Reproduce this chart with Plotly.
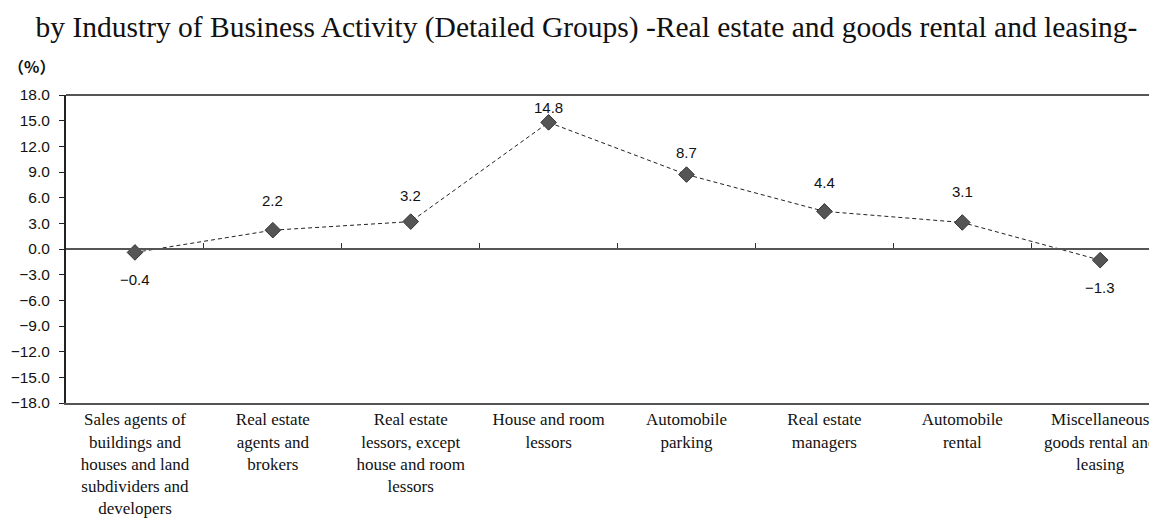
import plotly.graph_objects as go

categories = [
    "Sales agents of<br>buildings and<br>houses and land<br>subdividers and<br>developers",
    "Real estate<br>agents and<br>brokers",
    "Real estate<br>lessors, except<br>house and room<br>lessors",
    "House and room<br>lessors",
    "Automobile<br>parking",
    "Real estate<br>managers",
    "Automobile<br>rental",
    "Miscellaneous<br>goods rental and<br>leasing",
]
values = [-0.4, 2.2, 3.2, 14.8, 8.7, 4.4, 3.1, -1.3]
label_shift = [-27, 30, 26, 15, 22, 29, 31, -27]
y_ticks = [18, 15, 12, 9, 6, 3, 0, -3, -6, -9, -12, -15, -18]
y_ticktext = [("−" if v < 0 else "") + f"{abs(v):.1f}" for v in y_ticks]

xs = list(range(len(categories)))
SANS = "Liberation Sans, Arial, sans-serif"
SERIF = "Liberation Serif, Times New Roman, serif"

fig = go.Figure()
fig.add_trace(go.Scatter(
    x=xs, y=values, mode="lines+markers",
    line=dict(color="#222222", width=1, dash="4px,3px"),
    marker=dict(symbol="diamond", size=12, color="#555555",
                line=dict(color="#333333", width=1)),
    showlegend=False, hoverinfo="skip",
))
fig.add_trace(go.Scatter(x=xs, y=values, xaxis="x2", mode="markers",
                         marker=dict(opacity=0), showlegend=False, hoverinfo="skip"))

for x, v, s in zip(xs, values, label_shift):
    fig.add_annotation(
        x=x, y=v, text=("−" if v < 0 else "") + f"{abs(v):.1f}",
        showarrow=False, yshift=s,
        font=dict(family=SANS, size=15, color="#111111"),
    )

fig.add_annotation(
    x=0, xref="paper", xanchor="left", xshift=-60,
    y=1, yref="paper", yanchor="bottom", yshift=15,
    text="<b>（%）</b>", showarrow=False,
    font=dict(family="Noto Sans CJK JP, sans-serif", size=16, color="#111111"),
)

xrange = [-0.5, 7.47]
fig.update_layout(
    width=1157, height=525,
    margin=dict(l=58, r=0, t=87, b=130),
    paper_bgcolor="white", plot_bgcolor="white",
    title=dict(
        text="by Industry of Business Activity (Detailed Groups) -Real estate and goods rental and leasing-",
        x=0.5, xanchor="center", y=0.965, yanchor="middle",
        font=dict(family=SERIF, size=29.5, color="#111111"),
    ),
    xaxis=dict(
        range=xrange, tickvals=xs, ticktext=categories,
        showline=True, linecolor="#555555", linewidth=2, mirror=False,
        ticks="", showgrid=False, zeroline=False,
        tickfont=dict(family=SERIF, size=17, color="#111111"),
    ),
    xaxis2=dict(
        range=xrange, overlaying="x", anchor="free", position=0.5, side="bottom",
        tickvals=[i + 0.5 for i in xs[:-1]], showticklabels=False,
        ticks="inside", ticklen=5, tickcolor="#333333",
        showline=True, linecolor="#555555", linewidth=1.5,
        showgrid=False, zeroline=False,
    ),
    yaxis=dict(
        range=[-18, 18], tickvals=y_ticks, ticktext=y_ticktext,
        showline=True, linecolor="#222222", linewidth=2,
        ticks="outside", ticklen=5, tickcolor="#222222",
        ticklabelstandoff=6,
        showgrid=False, zeroline=False,
        tickfont=dict(family=SANS, size=15.5, color="#111111"),
    ),
    shapes=[dict(type="line", xref="paper", yref="paper", x0=0, x1=1, y0=1, y1=1,
                 line=dict(color="#555555", width=2))],
)

fig.write_html("out.html")
